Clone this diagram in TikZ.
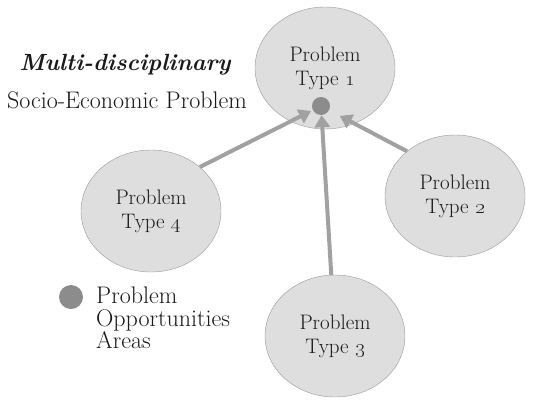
\documentclass[tikz,border=0pt]{standalone}
\usetikzlibrary{shapes.geometric,arrows.meta}

\definecolor{bubble}{gray}{0.87}
\definecolor{rim}{gray}{0.6}
\definecolor{spot}{gray}{0.55}
\definecolor{linkgray}{gray}{0.63}
\definecolor{ink}{gray}{0.1}

\begin{document}
\begin{tikzpicture}[x=1pt,y=-1pt,
  prob/.style={draw=rim, fill=bubble, ellipse, minimum width=140pt, minimum height=122pt,
    inner sep=0pt, align=center, text=ink, font=\fontsize{21}{24}\selectfont},
  spotdot/.style={circle, fill=spot, minimum size=18pt, inner sep=0pt},
  link/.style={draw=linkgray, line width=4pt, -{Triangle[length=12pt,width=15pt]}, shorten >=2pt}]
\useasboundingbox (0,0) rectangle (537,399);

% headings on the left
\node[text=ink, font=\bfseries\itshape\fontsize{23.4}{26}\selectfont] (head) at (125,65) {Multi-disciplinary};
\node[text=ink, font=\fontsize{24}{26}\selectfont] (subhead) at (127,100) {Socio-Economic Problem};

% the four problem types
\node[prob] (t1) at (325,68) {Problem\\Type \oldstylenums{1}};
\node[prob] (t2) at (455,196) {Problem\\Type \oldstylenums{2}};
\node[prob] (t3) at (335,336) {Problem\\Type \oldstylenums{3}};
\node[prob] (t4) at (151,211) {Problem\\Type \oldstylenums{4}};

\node[spotdot] (dot) at (321,106) {};

\path[link] (t4.42) -- (dot);
\path[link, shorten >=0pt] (t3) -- (dot);
\path[link, shorten >=12pt] (t2.137) -- (dot);

% key
\node[spotdot, minimum size=24pt] (key) at (71,297) {};
\node[anchor=west, inner sep=0pt, align=left, text=ink, font=\fontsize{24}{22.5}\selectfont] (keytext) at (96,318) {Problem\\Opportunities\\Areas};
\end{tikzpicture}
\end{document}
